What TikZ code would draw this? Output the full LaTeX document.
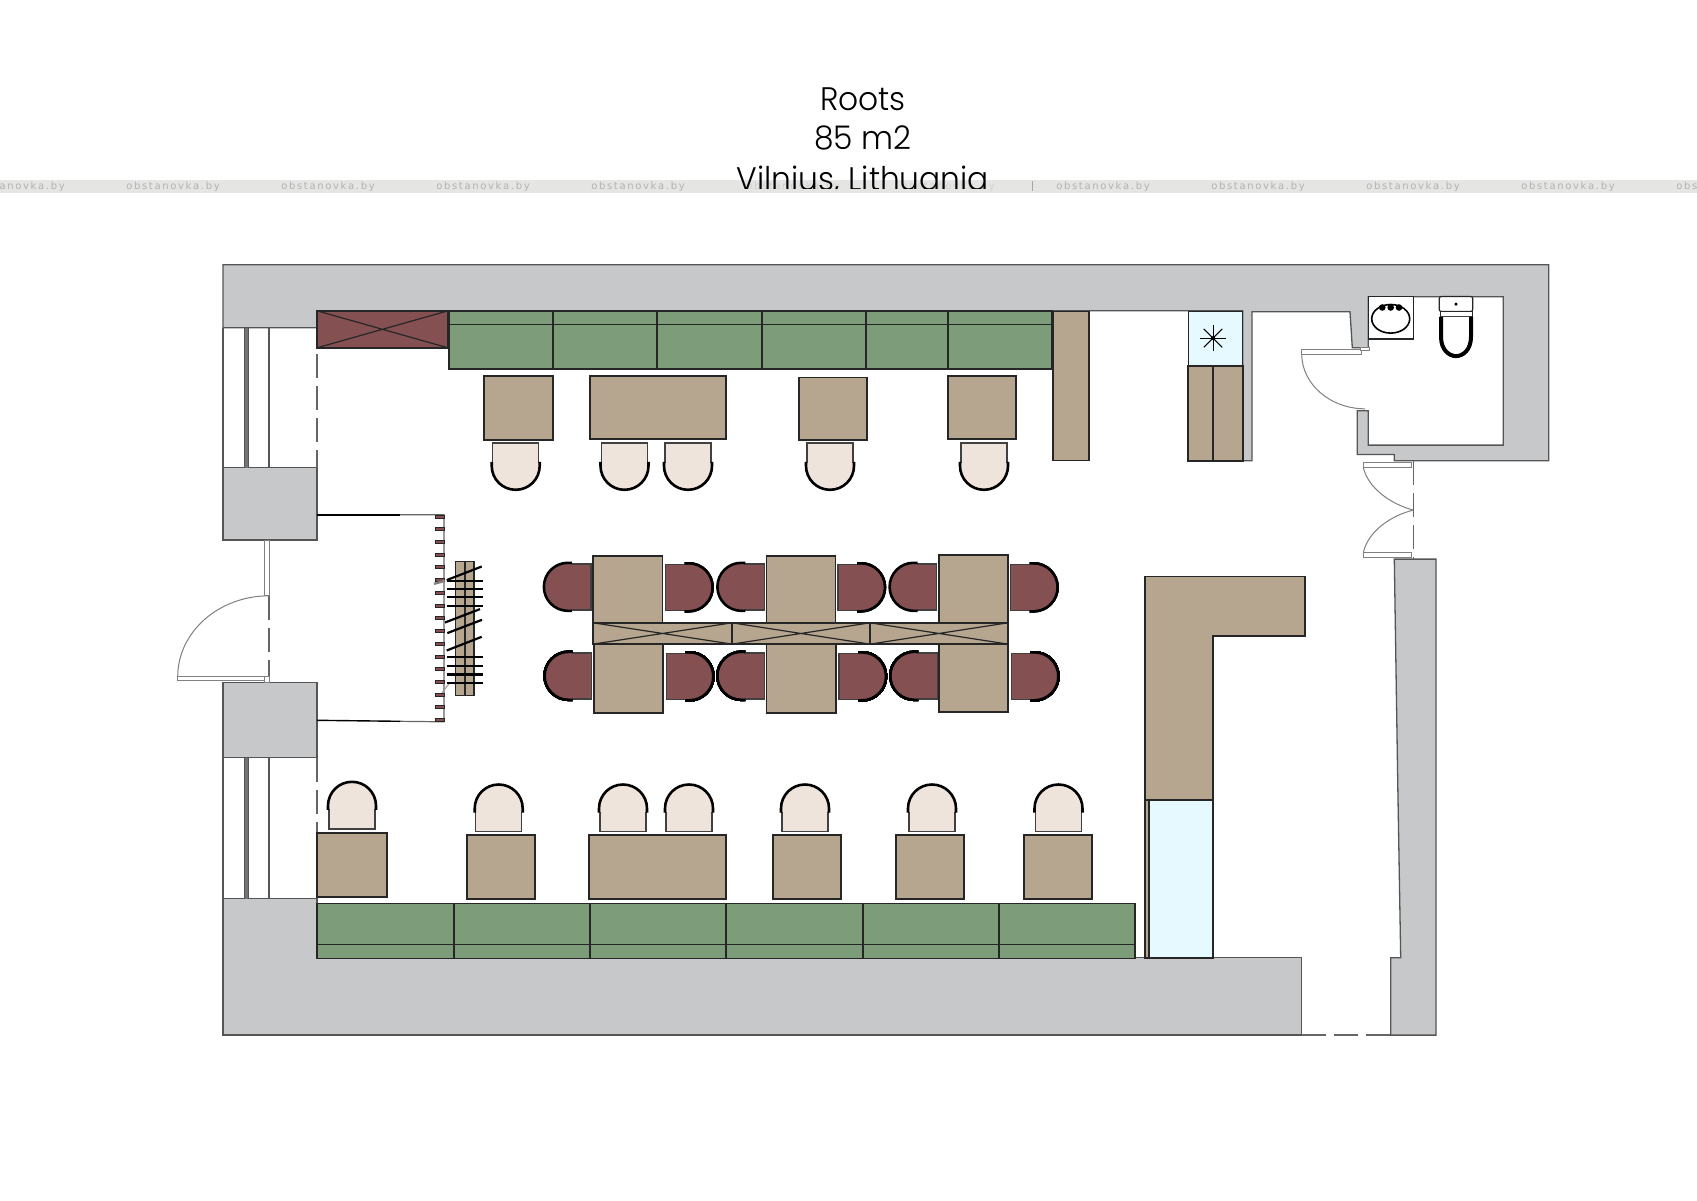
\documentclass[tikz,border=0pt]{standalone}
\usepackage{graphicx}
\usepackage{fontspec}
\setmainfont{Poppins}[UprightFont=* Light]
\newfontfamily\wmfont{DejaVu Sans}
\definecolor{wallc}{HTML}{C7C8CA}
\definecolor{greenc}{HTML}{7D9C79}
\definecolor{redc}{HTML}{855052}
\definecolor{tanc}{HTML}{B6A690}
\definecolor{beigec}{HTML}{EEE4DC}
\definecolor{bluec}{HTML}{E6F9FE}
\definecolor{bandc}{HTML}{E5E5E3}
\definecolor{wlinec}{HTML}{555555}
\tikzset{
 wall/.style={fill=wallc,draw=wlinec,line width=.65pt,line join=miter},
 furn/.style={draw=black!85,line width=.85pt},
 tanbox/.style={furn,fill=tanc},
 greenbox/.style={furn,fill=greenc},
 redbox/.style={furn,fill=redc},
 bluebox/.style={furn,fill=bluec},
 thinl/.style={draw=black!85,line width=.6pt},
 wline/.style={draw=wlinec,line width=.65pt},
 dashl/.style={draw=black!60,line width=.7pt,dash pattern=on 12pt off 4pt},
 leaf/.style={fill=white,draw=black!50,line width=.5pt},
 swing/.style={draw=black!50,line width=.5pt},
 hanger/.style={draw=black,line width=1.1pt},
 titlet/.style={font=\fontsize{16.3pt}{18pt}\selectfont,text=black,inner sep=0pt,anchor=base},
 wmark/.style={font=\wmfont\fontsize{5pt}{6pt}\selectfont,text=black!30,inner sep=0pt},
 wghost/.style={font=\wmfont\fontsize{5pt}{6pt}\selectfont,text=black!18,inner sep=0pt},
}
% chair: centre x, y, rotation, fill
\newcommand{\chairat}[4]{%
 \begin{scope}[shift={(#1,#2)},rotate=#3]
  \fill[#4] (-23,-23) -- (23,-23) -- (23,0) .. controls (23,12.7) and (12.7,23) .. (0,23) .. controls (-12.7,23) and (-23,12.7) .. (-23,0) -- cycle;
  \draw[draw=black!75,line width=.7pt] (-23,-3) -- (-23,-23) -- (23,-23) -- (23,-3);
  \draw[draw=black,line width=1.3pt] (-24,-4) -- (-24,0) .. controls (-24,13.3) and (-13.3,24) .. (0,24) .. controls (13.3,24) and (24,13.3) .. (24,0) -- (24,-4);
 \end{scope}}
\begin{document}
\begin{tikzpicture}[x=.5pt,y=-.5pt]
\useasboundingbox (0,0) rectangle (1697,1200);
\fill[white] (0,0) rectangle (1697,1200);
% watermark band
\fill[bandc] (0,180) rectangle (1697,192.6);
\foreach \wx in {18,173,328,483,638,1103,1258,1413,1568,1723}
  \node[wmark] at (\wx,186.3) {o\,b\,s\,t\,a\,n\,o\,v\,k\,a\,.\,b\,y};
\foreach \wx in {793,948}
  \node[wghost] at (\wx,186.3) {o\,b\,s\,t\,a\,n\,o\,v\,k\,a\,.\,b\,y};
\draw[draw=black!35,line width=.5pt] (1032.5,181) -- (1032.5,191);
% title
\node[titlet] (t1) at (863,110.5) {\scalebox{.96}[1]{Roots}};
\node[titlet] (t2) at (863,149.5) {\scalebox{.96}[1]{85 m2}};
\begin{scope}
 \clip (0,0) rectangle (1697,188);
 \node[titlet] (t3) at (863,190) {\scalebox{.96}[1]{Vilnius, Lithuania}};
\end{scope}
\begin{scope}[shift={(0,.8)}]
% walls
\draw[wall] (223,264) -- (1548.7,264) -- (1548.7,460) -- (1394.3,460) -- (1394.3,453.7) -- (1357.3,453.7) -- (1357.3,410) -- (1368.3,410) -- (1368.3,444.3) -- (1503.3,444.3) -- (1503.3,296) -- (1368.3,296) -- (1368.3,347) -- (1352.3,347) -- (1350,311) -- (1252,311) -- (1252,460) -- (1242.7,460) -- (1242.7,310) -- (317,310) -- (317,327) -- (223,327) -- cycle;
\draw[wall] (223,467) rectangle (317,539.3);
\draw[wall] (223,681.7) rectangle (317,757);
\draw[wall] (223,897.7) -- (317,897.7) -- (317,957) -- (1301.7,957) -- (1301.7,1034.3) -- (223,1034.3) -- cycle;
\draw[wall] (1394.3,558.3) -- (1436,558.3) -- (1436,1034.3) -- (1390.7,1034.3) -- (1390.7,957) -- (1400.7,957) -- (1397.7,780) -- cycle;
% windows
\foreach \ya/\yb in {327/467,757/897.7}{
 \draw[wline] (223,\ya) -- (223,\yb);
 \fill[black!55] (244.5,\ya) rectangle (248.5,\yb);
 \draw[wline] (244.5,\ya) -- (244.5,\yb) (248.5,\ya) -- (248.5,\yb);
 \draw[wline] (269,\ya) -- (269,\yb);
}
\draw[dashl] (317,353) -- (317,467);
\draw[dashl] (317,757) -- (317,897);
% entrance door
\draw[leaf] (264,539.3) rectangle (269,595);
\draw[dashl] (269,595) -- (269,681);
\draw[leaf] (177.7,675.7) -- (264,675.7) -- (264,680) -- (177.7,680) -- cycle;
\draw[leaf] (264,676) rectangle (269,681.7);
\draw[swing] (177.7,676) .. controls (177.7,631) and (219,595) .. (269,595);
% vestibule
\draw[draw=black,line width=.7pt] (317,514) -- (400,514);
\draw[draw=black!60,line width=.6pt] (400,514) -- (444,514) -- (444,721) -- (400,720.5);
\draw[draw=black,line width=.7pt] (400,720.5) -- (317,719.5);
\foreach \i in {0,...,16}
  \draw[draw=black!85,fill=redc,line width=.5pt] (435,{514.2+12.73*\i}) rectangle (444,{517.2+12.73*\i});
\draw[draw=black!50,line width=1.2pt] (434,583) -- (445,580);
\draw[draw=black!40,line width=.5pt] (442,692) -- (449,683);
% rack
\draw[tanbox,line width=.6pt] (455.7,560.7) rectangle (474,695);
\draw[thinl] (465,560.7) -- (465,695);
\foreach \hy in {580,588,596,605,656,665,673.7,682}
  \draw[hanger] (446.7,\hy) -- (483,\hy);
\draw[hanger] (446.7,579.3) -- (481.7,565.7);
\draw[hanger] (445,621.7) -- (480,608.3);
\draw[hanger] (447.3,632.3) -- (482,619);
\draw[hanger] (446.7,649.7) -- (481.7,636);
% top bench
\draw[redbox] (317,310) rectangle (448,347);
\draw[thinl] (317,310) -- (448,347) (317,347) -- (448,310);
\draw[greenbox] (448.7,310) rectangle (1052,368);
\draw[thinl] (448.7,324) -- (1052,324);
\foreach \vx in {553,657,762,866,948}
  \draw[furn] (\vx,310) -- (\vx,368);
\draw[tanbox,line width=.6pt] (1053,311) rectangle (1089,460);
% top tables
\draw[tanbox] (484,375) rectangle (553,439);
\draw[tanbox] (590,375.5) rectangle (726,438.5);
\draw[tanbox] (798.7,376.6) rectangle (867,439.4);
\draw[tanbox] (948,375.5) rectangle (1016,438.5);
\foreach \cx in {515.7,624.5,688,830,984}
  \chairat{\cx}{465}{0}{beigec}
% fridge
\draw[bluebox,line width=.6pt] (1188.3,310.7) rectangle (1242.7,365);
\draw[tanbox] (1188.3,365) rectangle (1242.7,460);
\draw[furn] (1213.3,365) -- (1213.3,460);
\foreach \a in {0,45,90,135}
  \draw[draw=black,line width=.5pt] (1213,337.3) ++(\a:13) -- ++(\a+180:26);
\fill[black] (1213,337.3) circle[radius=2];
% central tables
\draw[tanbox] (593.2,555) rectangle (662.5,622);
\draw[tanbox] (766.4,555) rectangle (835.4,622);
\draw[tanbox] (939,554) rectangle (1007.9,622);
\draw[tanbox] (593.8,643) rectangle (663,712);
\draw[tanbox] (766.6,643) rectangle (835.8,712);
\draw[tanbox] (939,643) rectangle (1007.9,711);
\draw[tanbox] (593.2,622) rectangle (1007.9,643.3);
\draw[furn] (732,622) -- (732,643.3);
\draw[furn] (870,622) -- (870,643.3);
\foreach \xa/\xb in {593.2/732,732/870,870/1007.9}
  \draw[thinl] (\xa,622) -- (\xb,643.3) (\xa,643.3) -- (\xb,622);
\foreach \cx in {567.9,741.4,913.6} \chairat{\cx}{586}{-90}{redc}
\foreach \cx in {688.6,861,1033.6} \chairat{\cx}{586.5}{90}{redc}
\foreach \cx in {568.6,741.4,914.3} \chairat{\cx}{675}{-90}{redc}
\foreach \cx in {689.3,862,1034.3} \chairat{\cx}{675.5}{90}{redc}
% bar
\draw[tanbox] (1145,575.8) -- (1305,575.8) -- (1305,635.3) -- (1213.3,635.3) -- (1213.3,957) -- (1145,957) -- cycle;
\draw[bluebox] (1149.3,799) rectangle (1213.3,957);
\draw[furn] (1145,799) -- (1213.3,799);
% bottom bench
\draw[greenbox] (317,902.7) rectangle (1134.7,957.7);
\draw[thinl] (317,943.7) -- (1134.7,943.7);
\foreach \vx in {453.7,590,726,862.7,998.7}
  \draw[furn] (\vx,902.7) -- (\vx,957.7);
% bottom tables
\draw[tanbox] (317,832) rectangle (386.7,896);
\draw[tanbox] (466.7,834.3) rectangle (535.3,898.3);
\draw[tanbox] (589.3,834.3) rectangle (726,898.3);
\draw[tanbox] (772.8,834.3) rectangle (841,898.3);
\draw[tanbox] (896,834.3) rectangle (964,898.3);
\draw[tanbox] (1024,834.3) rectangle (1092,898.3);
\chairat{352}{805}{180}{beigec}
\foreach \cx in {498.7,623,689,805,932,1058.5}
  \chairat{\cx}{807.7}{180}{beigec}
% bathroom door
\draw[leaf] (1301.7,348.7) rectangle (1361,353.3);
\draw[leaf] (1360.7,347) rectangle (1369,349.5);
\draw[swing] (1301.7,353.3) .. controls (1301.7,383) and (1330,408) .. (1365,408);
% street-side double door
\draw[leaf] (1363.3,461.7) rectangle (1411.7,466.7);
\draw[leaf] (1363.3,551.7) rectangle (1411.7,556.7);
\draw[swing] (1363.3,466.7) .. controls (1368,487) and (1390,503) .. (1413.3,509.3);
\draw[swing] (1363.3,551.7) .. controls (1368,531) and (1390,515) .. (1413.3,509.3);
\draw[dashl] (1413.3,460) -- (1413.3,558);
\draw[dashl] (1301.7,1034.3) -- (1390.7,1034.3);
% sink
\draw[fill=white,draw=black!85,line width=.7pt] (1368.3,295.7) rectangle (1413.7,338.3);
\draw[draw=black,line width=.8pt] (1390.7,318) ellipse[x radius=19,y radius=14.3];
\foreach \sx in {1382.3,1390.7,1399}
  \fill[black] (\sx,306.7) circle[radius=3.3];
% toilet
\draw[fill=white,draw=black!85,line width=.6pt,rounded corners=1pt] (1439.3,295.7) rectangle (1472.7,310.7);
\draw[fill=white,draw=black!85,line width=.5pt] (1440,310.7) rectangle (1472,315.7);
\fill[black] (1456,303.3) circle[radius=1.7];
\draw[draw=black,fill=white,line width=2pt] (1441,316) -- (1441,336) .. controls (1441,349) and (1449,355.3) .. (1456,355.3) .. controls (1463,355.3) and (1471,349) .. (1471,336) -- (1471,316);
\end{scope}
\end{tikzpicture}
\end{document}
